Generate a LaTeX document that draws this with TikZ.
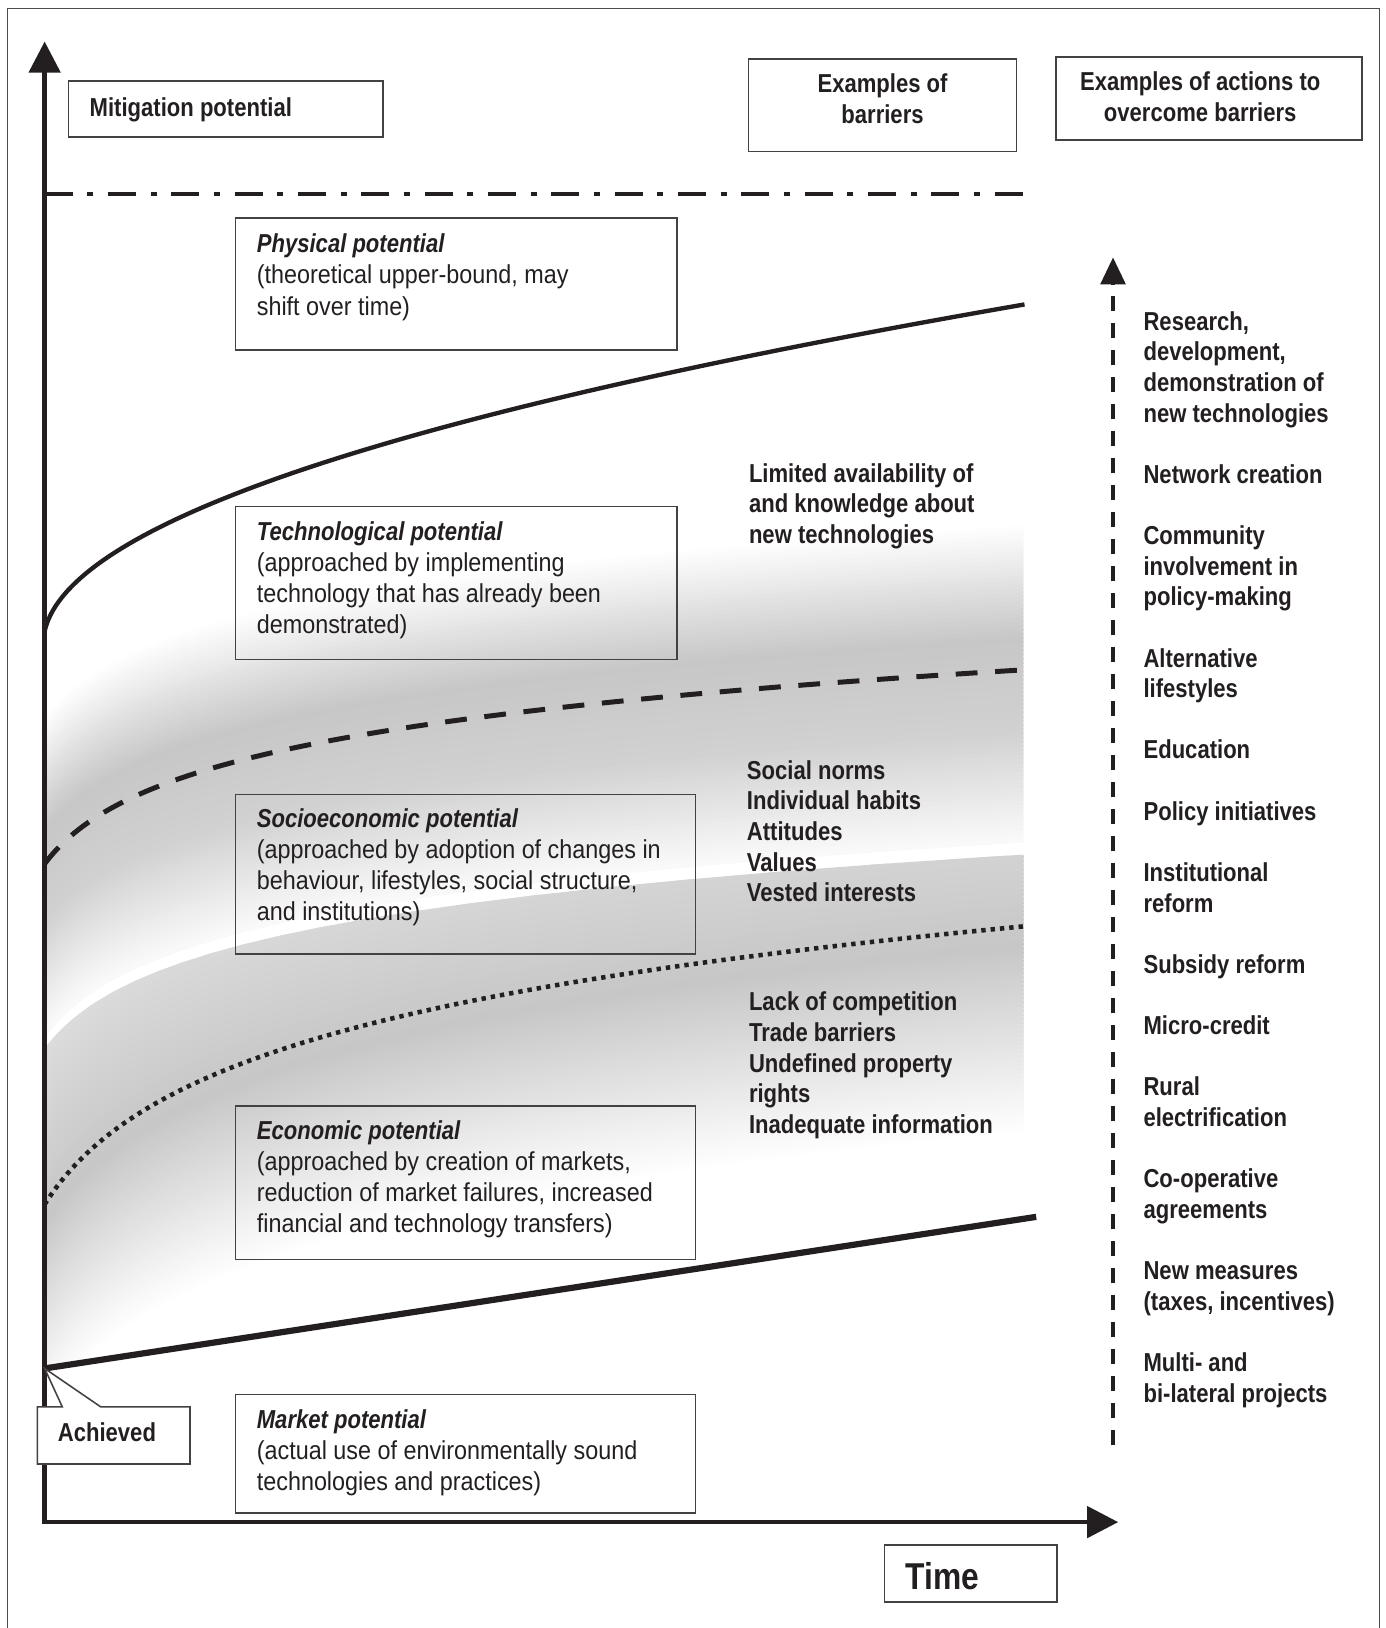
\documentclass[tikz,border=0pt]{standalone}
\usepackage{fontspec}
\setmainfont{Liberation Sans}[FakeStretch=0.9]
\newfontfamily\labelfont{Liberation Sans}[FakeStretch=0.85]
\usetikzlibrary{arrows.meta}
\definecolor{ink}{RGB}{35,31,32}
\newcommand\boxtitle[1]{{\labelfont\bfseries\itshape #1}}

\begin{document}
\begin{tikzpicture}[x=0.5pt,y=-0.5pt,
  box/.style={draw=ink!85,line width=0.75pt},
  boxtext/.style={anchor=north west,inner sep=0pt,align=left,text=ink,font=\fontsize{12.5}{15}\selectfont},
  lab/.style={inner sep=0pt,text=ink,font=\labelfont\fontsize{12.5}{14.75}\selectfont\bfseries},
  axis/.style={draw=ink,line width=2.2pt,{Triangle[length=15pt,width=15pt]}-{Triangle[length=15pt,width=15pt]}}]
\useasboundingbox (0,0) rectangle (1334,1568);
\draw[black!70,line width=0.6pt] (7,1568) |- (1329,8) -- (1329,1568);

% grey band round the socioeconomic curve
\begin{scope}
\clip (43,450) -- (990,450) -- (990,1173) -- (43,1318) -- cycle;
\foreach \d in {-140,-136,...,164}{
  \pgfmathsetmacro\g{\d<-30 ? 22*(\d+140)/110 : (\d<60 ? 22-4*(\d+30)/90 : 18-16*(\d-60)/105)}
  \draw[black!\g,line width=2.4pt,shift={(0,\d)}] plot[domain=0:1,samples=60,variable=\s] ({43+45*(exp(3.091*\s)-1)},{832-187*\s});
}
\end{scope}
% grey band round the economic curve, cut off below a white streak
\begin{scope}
\clip plot[domain=0:1,samples=60,variable=\s] ({43+45*(exp(3.091*\s)-1)},{1010-187*\s}) -- (990,823) -- (990,1173) -- (43,1318) -- cycle;
\foreach \d in {-180,-176,...,200}{
  \pgfmathsetmacro\g{\d<20 ? 12+10*(\d+180)/200 : 22*(200-\d)/180}
  \draw[black!\g,line width=2.4pt,shift={(0,\d)}] plot[domain=0:1,samples=60,variable=\s] ({43+60*(exp(2.8184*\s)-1)},{1160-268*\s});
}
\end{scope}

% header boxes
\draw[box] (66,78) rectangle (369,132);
\draw[box] (721,57) rectangle (979,146);
\draw[box] (1017,55) rectangle (1312,135);
\node[lab,anchor=base west] (mitigation) at (86,112) {Mitigation potential};
\node[lab,align=center,anchor=north] (barriers) at (850,71) {Examples of\\barriers};
\node[lab,align=center,anchor=north] (actions) at (1156,69) {Examples of actions to\\overcome barriers};

% potential boxes
\draw[box] (227,210) rectangle (652,337);
\draw[box] (227,488) rectangle (652,635);
\draw[box] (227,765) rectangle (670,919);
\draw[box] (227,1065) rectangle (670,1213);
\draw[box] (227,1343) rectangle (670,1457);
\node[boxtext] (physical) at (247,225) {\boxtitle{Physical potential}\\(theoretical upper-bound, may\\shift over time)};
\node[boxtext] (technological) at (247,502) {\boxtitle{Technological potential}\\(approached by implementing\\technology that has already been\\demonstrated)};
\node[boxtext] (socioeconomic) at (247,778) {\boxtitle{Socioeconomic potential}\\(approached by adoption of changes in\\behaviour, lifestyles, social structure,\\and institutions)};
\node[boxtext] (economic) at (247,1079) {\boxtitle{Economic potential}\\(approached by creation of markets,\\reduction of market failures, increased\\financial and technology transfers)};
\node[boxtext] (market) at (247,1357) {\boxtitle{Market potential}\\(actual use of environmentally sound\\technologies and practices)};

% potential curves
\draw[ink,line width=2.25pt,dash pattern=on 13.5pt off 7pt on 3pt off 7pt] (43,187) -- (985,187);
\draw[ink,line width=2.1pt,line join=round] plot[domain=0:1,samples=80,variable=\s] ({43+945*(\s*\s+0.08*\s)/1.08},{608-315*\s});
\draw[ink,line width=2.4pt,dash pattern=on 10.5pt off 8.5pt] plot[domain=0:1,samples=80,variable=\s] ({43+45*(exp(3.091*\s)-1)},{832-187*\s});
\draw[ink,line width=2.2pt,dash pattern=on 2.1pt off 2.4pt] plot[domain=0:1,samples=80,variable=\s] ({43+60*(exp(2.8184*\s)-1)},{1160-268*\s});
\coordinate (now) at (43,1318);
\coordinate (later) at (998,1172);
\draw[ink,line width=3pt] (now) -- (later);

% axes
\coordinate (O) at (43,1466);
\coordinate (ytip) at (43,40);
\coordinate (xtip) at (1077,1466);
\draw[axis] (ytip) -- (O) -- (xtip);
\draw[box] (852,1488) rectangle (1018,1543);
\node[lab,anchor=base west,font=\labelfont\fontsize{18}{20}\selectfont\bfseries] (time) at (872,1531) {Time};

% achieved callout
\draw[box,fill=white] (36,1355) -- (60,1355) -- (now) -- (97,1355) -- (183,1355) -- (183,1410) -- (36,1410) -- cycle;
\node[lab,anchor=base] (achieved) at (103,1388) {Achieved};

% barriers
\node[lab,align=left,anchor=north west] (techbar) at (721,446) {Limited availability of\\and knowledge about\\new technologies};
\node[lab,align=left,anchor=north west] (socbar) at (719,732) {Social norms\\Individual habits\\Attitudes\\Values\\Vested interests};
\node[lab,align=left,anchor=north west] (econbar) at (721,955) {Lack of competition\\Trade barriers\\Undefined property\\rights\\Inadequate information};

% actions
\coordinate (abottom) at (1072,1392);
\coordinate (atop) at (1072,248);
\draw[ink,line width=1.6pt,dash pattern=on 7.25pt off 5.75pt,-{Triangle[length=13pt,width=12pt]}] (abottom) -- (atop);
\foreach \i/\act in {0/{Research,},1/{development,},2/{demonstration of},3/{new technologies},
  5/{Network creation},7/{Community},8/{involvement in},9/{policy-making},
  11/{Alternative},12/{lifestyles},14/{Education},16/{Policy initiatives},
  18/{Institutional},19/{reform},21/{Subsidy reform},23/{Micro-credit},
  25/{Rural},26/{electrification},28/{Co-operative},29/{agreements},
  31/{New measures},32/{(taxes, incentives)},34/{Multi- and},35/{bi-lateral projects}}
  \node[lab,anchor=base west] (act\i) at (1101,{318+29.5*\i}) {\act};
\end{tikzpicture}
\end{document}
